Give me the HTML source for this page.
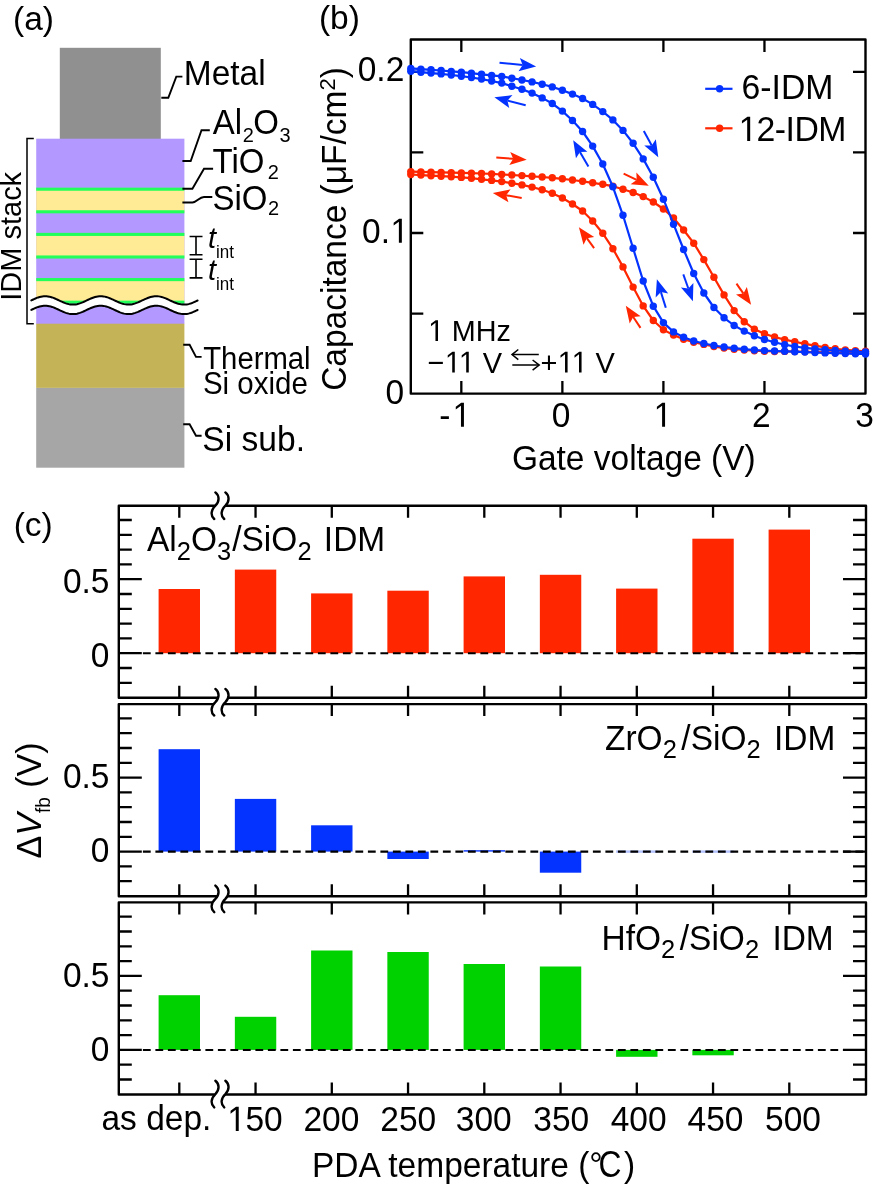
<!DOCTYPE html>
<html><head><meta charset="utf-8"><style>
html,body{margin:0;padding:0;background:#fff;overflow:hidden;}
svg{display:block;will-change:transform;}
text{font-family:"Liberation Sans", sans-serif;fill:#000;}
</style></head><body>
<svg width="873" height="1184" viewBox="0 0 873 1184">
<rect x="59.8" y="47.8" width="101" height="91.2" fill="#909090"/>
<rect x="36.2" y="138.7" width="148.2" height="185.3" fill="#b399ff"/>
<rect x="36.2" y="189.2" width="148.2" height="22.6" fill="#ffea96"/>
<rect x="36.2" y="234.4" width="148.2" height="22.6" fill="#ffea96"/>
<rect x="36.2" y="279.6" width="148.2" height="22.6" fill="#ffea96"/>
<rect x="36.2" y="187.65" width="148.2" height="3.1" fill="#22ff5a"/>
<rect x="36.2" y="210.25" width="148.2" height="3.1" fill="#22ff5a"/>
<rect x="36.2" y="232.85" width="148.2" height="3.1" fill="#22ff5a"/>
<rect x="36.2" y="255.45" width="148.2" height="3.1" fill="#22ff5a"/>
<rect x="36.2" y="278.05" width="148.2" height="3.1" fill="#22ff5a"/>
<rect x="36.2" y="300.65" width="148.2" height="3.1" fill="#22ff5a"/>
<rect x="36.2" y="323.7" width="148.2" height="64.2" fill="#c5b457"/>
<rect x="36.2" y="387.9" width="148.2" height="79.8" fill="#a6a6a6"/>
<path d="M31.3,300.4 L32.69,299.74 L34.07,299.1 L35.46,298.5 L36.84,297.93 L38.23,297.43 L39.62,297 L41,296.66 L42.39,296.41 L43.77,296.25 L45.16,296.2 L46.54,296.25 L47.93,296.4 L49.32,296.65 L50.7,297 L52.09,297.42 L53.47,297.92 L54.86,298.48 L56.24,299.09 L57.63,299.73 L59.02,300.38 L60.4,301.04 L61.79,301.68 L63.17,302.29 L64.56,302.85 L65.95,303.36 L67.33,303.79 L68.72,304.13 L70.1,304.39 L71.49,304.54 L72.88,304.6 L74.26,304.55 L75.65,304.4 L77.03,304.15 L78.42,303.81 L79.8,303.39 L81.19,302.89 L82.58,302.33 L83.96,301.73 L85.35,301.09 L86.73,300.43 L88.12,299.78 L89.5,299.13 L90.89,298.52 L92.28,297.96 L93.66,297.46 L95.05,297.02 L96.43,296.67 L97.82,296.42 L99.21,296.26 L100.59,296.2 L101.98,296.25 L103.36,296.39 L104.75,296.64 L106.13,296.98 L107.52,297.4 L108.91,297.9 L110.29,298.45 L111.68,299.06 L113.06,299.7 L114.45,300.35 L115.84,301.01 L117.22,301.65 L118.61,302.26 L119.99,302.83 L121.38,303.33 L122.76,303.77 L124.15,304.12 L125.54,304.38 L126.92,304.54 L128.31,304.6 L129.69,304.56 L131.08,304.41 L132.47,304.17 L133.85,303.83 L135.24,303.41 L136.62,302.92 L138.01,302.36 L139.39,301.76 L140.78,301.12 L142.17,300.46 L143.55,299.81 L144.94,299.16 L146.32,298.55 L147.71,297.99 L149.1,297.48 L150.48,297.04 L151.87,296.69 L153.25,296.43 L154.64,296.26 L156.02,296.2 L157.41,296.24 L158.8,296.38 L160.18,296.62 L161.57,296.96 L162.95,297.38 L164.34,297.87 L165.73,298.43 L167.11,299.03 L168.5,299.67 L169.88,300.32 L171.27,300.98 L172.66,301.62 L174.04,302.23 L175.43,302.8 L176.81,303.31 L178.2,303.75 L179.58,304.1 L180.97,304.37 L182.36,304.53 L183.74,304.6 L185.13,304.56 L186.51,304.42 L187.9,304.18 L189.28,303.85 L190.67,303.43 L192.06,302.94 L193.44,302.39 L194.83,301.79 L196.21,301.15 L197.6,300.5 L197.6,310 L196.21,310.65 L194.83,311.29 L193.44,311.89 L192.06,312.44 L190.67,312.93 L189.28,313.35 L187.9,313.68 L186.51,313.92 L185.13,314.06 L183.74,314.1 L182.36,314.03 L180.97,313.87 L179.58,313.6 L178.2,313.25 L176.81,312.81 L175.43,312.3 L174.04,311.73 L172.66,311.12 L171.27,310.48 L169.88,309.82 L168.5,309.17 L167.11,308.53 L165.73,307.93 L164.34,307.37 L162.95,306.88 L161.57,306.46 L160.18,306.12 L158.8,305.88 L157.41,305.74 L156.02,305.7 L154.64,305.76 L153.25,305.93 L151.87,306.19 L150.48,306.54 L149.1,306.98 L147.71,307.49 L146.32,308.05 L144.94,308.66 L143.55,309.31 L142.17,309.96 L140.78,310.62 L139.39,311.26 L138.01,311.86 L136.62,312.42 L135.24,312.91 L133.85,313.33 L132.47,313.67 L131.08,313.91 L129.69,314.06 L128.31,314.1 L126.92,314.04 L125.54,313.88 L124.15,313.62 L122.76,313.27 L121.38,312.83 L119.99,312.33 L118.61,311.76 L117.22,311.15 L115.84,310.51 L114.45,309.85 L113.06,309.2 L111.68,308.56 L110.29,307.95 L108.91,307.4 L107.52,306.9 L106.13,306.48 L104.75,306.14 L103.36,305.89 L101.98,305.75 L100.59,305.7 L99.21,305.76 L97.82,305.92 L96.43,306.17 L95.05,306.52 L93.66,306.96 L92.28,307.46 L90.89,308.02 L89.5,308.63 L88.12,309.28 L86.73,309.93 L85.35,310.59 L83.96,311.23 L82.58,311.83 L81.19,312.39 L79.8,312.89 L78.42,313.31 L77.03,313.65 L75.65,313.9 L74.26,314.05 L72.88,314.1 L71.49,314.04 L70.1,313.89 L68.72,313.63 L67.33,313.29 L65.95,312.86 L64.56,312.35 L63.17,311.79 L61.79,311.18 L60.4,310.54 L59.02,309.88 L57.63,309.23 L56.24,308.59 L54.86,307.98 L53.47,307.42 L52.09,306.92 L50.7,306.5 L49.32,306.15 L47.93,305.9 L46.54,305.75 L45.16,305.7 L43.77,305.75 L42.39,305.91 L41,306.16 L39.62,306.5 L38.23,306.93 L36.84,307.43 L35.46,308 L34.07,308.6 L32.69,309.24 L31.3,309.9 Z" fill="#fff"/>
<path d="M31.3,300.4 L32.69,299.74 L34.07,299.1 L35.46,298.5 L36.84,297.93 L38.23,297.43 L39.62,297 L41,296.66 L42.39,296.41 L43.77,296.25 L45.16,296.2 L46.54,296.25 L47.93,296.4 L49.32,296.65 L50.7,297 L52.09,297.42 L53.47,297.92 L54.86,298.48 L56.24,299.09 L57.63,299.73 L59.02,300.38 L60.4,301.04 L61.79,301.68 L63.17,302.29 L64.56,302.85 L65.95,303.36 L67.33,303.79 L68.72,304.13 L70.1,304.39 L71.49,304.54 L72.88,304.6 L74.26,304.55 L75.65,304.4 L77.03,304.15 L78.42,303.81 L79.8,303.39 L81.19,302.89 L82.58,302.33 L83.96,301.73 L85.35,301.09 L86.73,300.43 L88.12,299.78 L89.5,299.13 L90.89,298.52 L92.28,297.96 L93.66,297.46 L95.05,297.02 L96.43,296.67 L97.82,296.42 L99.21,296.26 L100.59,296.2 L101.98,296.25 L103.36,296.39 L104.75,296.64 L106.13,296.98 L107.52,297.4 L108.91,297.9 L110.29,298.45 L111.68,299.06 L113.06,299.7 L114.45,300.35 L115.84,301.01 L117.22,301.65 L118.61,302.26 L119.99,302.83 L121.38,303.33 L122.76,303.77 L124.15,304.12 L125.54,304.38 L126.92,304.54 L128.31,304.6 L129.69,304.56 L131.08,304.41 L132.47,304.17 L133.85,303.83 L135.24,303.41 L136.62,302.92 L138.01,302.36 L139.39,301.76 L140.78,301.12 L142.17,300.46 L143.55,299.81 L144.94,299.16 L146.32,298.55 L147.71,297.99 L149.1,297.48 L150.48,297.04 L151.87,296.69 L153.25,296.43 L154.64,296.26 L156.02,296.2 L157.41,296.24 L158.8,296.38 L160.18,296.62 L161.57,296.96 L162.95,297.38 L164.34,297.87 L165.73,298.43 L167.11,299.03 L168.5,299.67 L169.88,300.32 L171.27,300.98 L172.66,301.62 L174.04,302.23 L175.43,302.8 L176.81,303.31 L178.2,303.75 L179.58,304.1 L180.97,304.37 L182.36,304.53 L183.74,304.6 L185.13,304.56 L186.51,304.42 L187.9,304.18 L189.28,303.85 L190.67,303.43 L192.06,302.94 L193.44,302.39 L194.83,301.79 L196.21,301.15 L197.6,300.5" fill="none" stroke="#000" stroke-width="2.0" stroke-linecap="round"/>
<path d="M31.3,309.9 L32.69,309.24 L34.07,308.6 L35.46,308 L36.84,307.43 L38.23,306.93 L39.62,306.5 L41,306.16 L42.39,305.91 L43.77,305.75 L45.16,305.7 L46.54,305.75 L47.93,305.9 L49.32,306.15 L50.7,306.5 L52.09,306.92 L53.47,307.42 L54.86,307.98 L56.24,308.59 L57.63,309.23 L59.02,309.88 L60.4,310.54 L61.79,311.18 L63.17,311.79 L64.56,312.35 L65.95,312.86 L67.33,313.29 L68.72,313.63 L70.1,313.89 L71.49,314.04 L72.88,314.1 L74.26,314.05 L75.65,313.9 L77.03,313.65 L78.42,313.31 L79.8,312.89 L81.19,312.39 L82.58,311.83 L83.96,311.23 L85.35,310.59 L86.73,309.93 L88.12,309.28 L89.5,308.63 L90.89,308.02 L92.28,307.46 L93.66,306.96 L95.05,306.52 L96.43,306.17 L97.82,305.92 L99.21,305.76 L100.59,305.7 L101.98,305.75 L103.36,305.89 L104.75,306.14 L106.13,306.48 L107.52,306.9 L108.91,307.4 L110.29,307.95 L111.68,308.56 L113.06,309.2 L114.45,309.85 L115.84,310.51 L117.22,311.15 L118.61,311.76 L119.99,312.33 L121.38,312.83 L122.76,313.27 L124.15,313.62 L125.54,313.88 L126.92,314.04 L128.31,314.1 L129.69,314.06 L131.08,313.91 L132.47,313.67 L133.85,313.33 L135.24,312.91 L136.62,312.42 L138.01,311.86 L139.39,311.26 L140.78,310.62 L142.17,309.96 L143.55,309.31 L144.94,308.66 L146.32,308.05 L147.71,307.49 L149.1,306.98 L150.48,306.54 L151.87,306.19 L153.25,305.93 L154.64,305.76 L156.02,305.7 L157.41,305.74 L158.8,305.88 L160.18,306.12 L161.57,306.46 L162.95,306.88 L164.34,307.37 L165.73,307.93 L167.11,308.53 L168.5,309.17 L169.88,309.82 L171.27,310.48 L172.66,311.12 L174.04,311.73 L175.43,312.3 L176.81,312.81 L178.2,313.25 L179.58,313.6 L180.97,313.87 L182.36,314.03 L183.74,314.1 L185.13,314.06 L186.51,313.92 L187.9,313.68 L189.28,313.35 L190.67,312.93 L192.06,312.44 L193.44,311.89 L194.83,311.29 L196.21,310.65 L197.6,310" fill="none" stroke="#000" stroke-width="2.0" stroke-linecap="round"/>
<path d="M33.8,138.6 H27 V323.8 H33.8" fill="none" stroke="#000" stroke-width="1.5"/>
<path d="M161.3,97.8 L168.3,97.8 L176.3,76.6 L182.4,76.6" fill="none" stroke="#000" stroke-width="1.9"/>
<path d="M182.4,161 L190.7,161 L201.5,130.2 L209.8,130.2" fill="none" stroke="#000" stroke-width="1.9"/>
<path d="M182.4,188.7 L192.4,188.7 L204,168.8 L213.1,168.8" fill="none" stroke="#000" stroke-width="1.9"/>
<path d="M182.4,202.5 H192.5 C197,202.5 199,197 204,197 H212.3" fill="none" stroke="#000" stroke-width="1.9"/>
<path d="M183.2,344.8 L189.6,344.8 L196,356.9 L201.6,356.9" fill="none" stroke="#000" stroke-width="1.9"/>
<path d="M183.2,424.3 L189.6,424.3 L196,435.8 L201.6,435.8" fill="none" stroke="#000" stroke-width="1.9"/>
<path d="M189.6,236.5 H202.5 M196,236.5 V254.8 M189.6,254.8 H202.5" fill="none" stroke="#000" stroke-width="1.6"/>
<path d="M189.6,259.2 H202.5 M196,259.2 V277.9 M189.6,277.9 H202.5" fill="none" stroke="#000" stroke-width="1.6"/>
<text transform="translate(13,29.8) scale(1,1.0)" font-size="33.5" text-anchor="start" >(a)</text>
<text transform="translate(183.8,85.1) scale(1,1.045)" font-size="33.5" text-anchor="start" >Metal</text>
<text transform="translate(212.8,133.9) scale(1,1.045)" font-size="33" text-anchor="start" >Al<tspan font-size="20" dy="7.5" dx="0.5">2</tspan><tspan dy="-7.5" dx="-0.5">O</tspan><tspan font-size="20" dy="7.5" dx="0.5">3</tspan></text>
<text transform="translate(212.5,172.9) scale(1,1.045)" font-size="33" text-anchor="start" >TiO<tspan font-size="20" dy="5.6" dx="3.4">2</tspan></text>
<text transform="translate(212.5,209.5) scale(1,1.045)" font-size="33" text-anchor="start" >SiO<tspan font-size="20" dy="5.6" dx="0.5">2</tspan></text>
<text transform="translate(208,248.4) scale(1,1.045)" font-size="29" text-anchor="start" font-style="italic">t<tspan font-style="normal" font-size="17" dy="8.8">int</tspan></text>
<text transform="translate(208,280) scale(1,1.045)" font-size="29" text-anchor="start" font-style="italic">t<tspan font-style="normal" font-size="17" dy="9.6">int</tspan></text>
<text transform="translate(203.2,369.2) scale(1,1.045)" font-size="29.3" text-anchor="start" >Thermal</text>
<text transform="translate(202.9,394.4) scale(1,1.045)" font-size="29.5" text-anchor="start" >Si oxide</text>
<text transform="translate(202.3,451.4) scale(1,1.045)" font-size="33.6" text-anchor="start" >Si sub.</text>
<text transform="translate(21.3,236.3) rotate(-90) scale(1,1.045)" font-size="29" text-anchor="middle" >IDM stack</text>
<rect x="410.8" y="39.5" width="454.7" height="354.1" stroke="#000" stroke-width="2.4" fill="none" stroke-linejoin="round"/>
<path d="M461.32,393.6 V381.1 M461.32,39.5 V52 M562.37,393.6 V381.1 M562.37,39.5 V52 M663.41,393.6 V381.1 M663.41,39.5 V52 M764.46,393.6 V381.1 M764.46,39.5 V52 M410.8,313.55 H423.3 M865.5,313.55 H853 M410.8,233 H423.3 M865.5,233 H853 M410.8,152.45 H423.3 M865.5,152.45 H853 M410.8,71.9 H423.3 M865.5,71.9 H853" stroke="#000" stroke-width="2.3" fill="none"/>
<g>
<path d="M410.8,174.5 L420.9,175.1 L431.01,175.7 L441.11,176.2 L451.22,176.7 L461.32,177.4 L471.43,178.2 L481.53,179.3 L491.64,180.4 L501.74,181.6 L511.84,183.2 L521.95,184.9 L532.05,187.1 L542.16,189.8 L552.26,193.2 L562.37,198 L572.47,204 L582.58,211 L592.68,221 L602.78,233.3 L612.89,248.7 L622.99,266.9 L633.1,287.1 L643.2,305.9 L653.31,320.5 L663.41,329.7 L673.52,335.1 L683.62,339.2 L693.72,342.2 L703.83,344.4 L713.93,346.5 L724.04,348.1 L734.14,349.2 L744.25,350 L754.35,350.7 L764.46,351.2 L774.56,351.5 L784.66,351.4 L794.77,351.5 L804.87,351.8 L814.98,352.1 L825.08,352.4 L835.19,352.7 L845.29,353 L855.4,353.3 L865.5,353.5" fill="none" stroke="#ff2600" stroke-width="2.2" stroke-linejoin="round"/>
<g fill="#ff2600"><circle cx="410.8" cy="174.5" r="3.7"/><circle cx="420.9" cy="175.1" r="3.7"/><circle cx="431.01" cy="175.7" r="3.7"/><circle cx="441.11" cy="176.2" r="3.7"/><circle cx="451.22" cy="176.7" r="3.7"/><circle cx="461.32" cy="177.4" r="3.7"/><circle cx="471.43" cy="178.2" r="3.7"/><circle cx="481.53" cy="179.3" r="3.7"/><circle cx="491.64" cy="180.4" r="3.7"/><circle cx="501.74" cy="181.6" r="3.7"/><circle cx="511.84" cy="183.2" r="3.7"/><circle cx="521.95" cy="184.9" r="3.7"/><circle cx="532.05" cy="187.1" r="3.7"/><circle cx="542.16" cy="189.8" r="3.7"/><circle cx="552.26" cy="193.2" r="3.7"/><circle cx="562.37" cy="198" r="3.7"/><circle cx="572.47" cy="204" r="3.7"/><circle cx="582.58" cy="211" r="3.7"/><circle cx="592.68" cy="221" r="3.7"/><circle cx="602.78" cy="233.3" r="3.7"/><circle cx="612.89" cy="248.7" r="3.7"/><circle cx="622.99" cy="266.9" r="3.7"/><circle cx="633.1" cy="287.1" r="3.7"/><circle cx="643.2" cy="305.9" r="3.7"/><circle cx="653.31" cy="320.5" r="3.7"/><circle cx="663.41" cy="329.7" r="3.7"/><circle cx="673.52" cy="335.1" r="3.7"/><circle cx="683.62" cy="339.2" r="3.7"/><circle cx="693.72" cy="342.2" r="3.7"/><circle cx="703.83" cy="344.4" r="3.7"/><circle cx="713.93" cy="346.5" r="3.7"/><circle cx="724.04" cy="348.1" r="3.7"/><circle cx="734.14" cy="349.2" r="3.7"/><circle cx="744.25" cy="350" r="3.7"/><circle cx="754.35" cy="350.7" r="3.7"/><circle cx="764.46" cy="351.2" r="3.7"/><circle cx="774.56" cy="351.5" r="3.7"/><circle cx="784.66" cy="351.4" r="3.7"/><circle cx="794.77" cy="351.5" r="3.7"/><circle cx="804.87" cy="351.8" r="3.7"/><circle cx="814.98" cy="352.1" r="3.7"/><circle cx="825.08" cy="352.4" r="3.7"/><circle cx="835.19" cy="352.7" r="3.7"/><circle cx="845.29" cy="353" r="3.7"/><circle cx="855.4" cy="353.3" r="3.7"/><circle cx="865.5" cy="353.5" r="3.7"/></g>
<path d="M410.8,171.6 L420.9,171.9 L431.01,172.2 L441.11,172.4 L451.22,172.6 L461.32,172.9 L471.43,173.1 L481.53,173.5 L491.64,173.9 L501.74,174.5 L511.84,175 L521.95,175.6 L532.05,176.3 L542.16,177 L552.26,177.8 L562.37,178.8 L572.47,180 L582.58,181.3 L592.68,182.8 L602.78,184.3 L612.89,186.2 L622.99,189.2 L633.1,192.5 L643.2,196.6 L653.31,202 L663.41,209 L673.52,218 L683.62,230 L693.72,243.2 L703.83,259.6 L713.93,277.3 L724.04,294.9 L734.14,310.6 L744.25,321.7 L754.35,329.3 L764.46,333.7 L774.56,337 L784.66,339.6 L794.77,341.8 L804.87,343.8 L814.98,345.7 L825.08,347.4 L835.19,348.8 L845.29,349.9 L855.4,350.7 L865.5,351.3" fill="none" stroke="#ff2600" stroke-width="2.2" stroke-linejoin="round"/>
<g fill="#ff2600"><circle cx="410.8" cy="171.6" r="3.7"/><circle cx="420.9" cy="171.9" r="3.7"/><circle cx="431.01" cy="172.2" r="3.7"/><circle cx="441.11" cy="172.4" r="3.7"/><circle cx="451.22" cy="172.6" r="3.7"/><circle cx="461.32" cy="172.9" r="3.7"/><circle cx="471.43" cy="173.1" r="3.7"/><circle cx="481.53" cy="173.5" r="3.7"/><circle cx="491.64" cy="173.9" r="3.7"/><circle cx="501.74" cy="174.5" r="3.7"/><circle cx="511.84" cy="175" r="3.7"/><circle cx="521.95" cy="175.6" r="3.7"/><circle cx="532.05" cy="176.3" r="3.7"/><circle cx="542.16" cy="177" r="3.7"/><circle cx="552.26" cy="177.8" r="3.7"/><circle cx="562.37" cy="178.8" r="3.7"/><circle cx="572.47" cy="180" r="3.7"/><circle cx="582.58" cy="181.3" r="3.7"/><circle cx="592.68" cy="182.8" r="3.7"/><circle cx="602.78" cy="184.3" r="3.7"/><circle cx="612.89" cy="186.2" r="3.7"/><circle cx="622.99" cy="189.2" r="3.7"/><circle cx="633.1" cy="192.5" r="3.7"/><circle cx="643.2" cy="196.6" r="3.7"/><circle cx="653.31" cy="202" r="3.7"/><circle cx="663.41" cy="209" r="3.7"/><circle cx="673.52" cy="218" r="3.7"/><circle cx="683.62" cy="230" r="3.7"/><circle cx="693.72" cy="243.2" r="3.7"/><circle cx="703.83" cy="259.6" r="3.7"/><circle cx="713.93" cy="277.3" r="3.7"/><circle cx="724.04" cy="294.9" r="3.7"/><circle cx="734.14" cy="310.6" r="3.7"/><circle cx="744.25" cy="321.7" r="3.7"/><circle cx="754.35" cy="329.3" r="3.7"/><circle cx="764.46" cy="333.7" r="3.7"/><circle cx="774.56" cy="337" r="3.7"/><circle cx="784.66" cy="339.6" r="3.7"/><circle cx="794.77" cy="341.8" r="3.7"/><circle cx="804.87" cy="343.8" r="3.7"/><circle cx="814.98" cy="345.7" r="3.7"/><circle cx="825.08" cy="347.4" r="3.7"/><circle cx="835.19" cy="348.8" r="3.7"/><circle cx="845.29" cy="349.9" r="3.7"/><circle cx="855.4" cy="350.7" r="3.7"/><circle cx="865.5" cy="351.3" r="3.7"/></g>
<path d="M410.8,71.2 L420.9,72.2 L431.01,73.1 L441.11,73.9 L451.22,75 L461.32,76.2 L471.43,77.5 L481.53,79.1 L491.64,81 L501.74,83.1 L511.84,86.2 L521.95,89.3 L532.05,93.1 L542.16,97.9 L552.26,103.5 L562.37,111.1 L572.47,120.5 L582.58,131.5 L592.68,146.1 L602.78,164 L612.89,186.8 L622.99,215.3 L633.1,248.3 L643.2,281 L653.31,306.2 L663.41,322.6 L673.52,331.9 L683.62,337.3 L693.72,341 L703.83,343.5 L713.93,345.5 L724.04,347 L734.14,348.2 L744.25,349.2 L754.35,350 L764.46,350.6 L774.56,351 L784.66,351.3 L794.77,351.7 L804.87,352.1 L814.98,352.5 L825.08,352.9 L835.19,353.2 L845.29,353.5 L855.4,353.8 L865.5,354" fill="none" stroke="#0433ff" stroke-width="2.2" stroke-linejoin="round"/>
<g fill="#0433ff"><circle cx="410.8" cy="71.2" r="3.7"/><circle cx="420.9" cy="72.2" r="3.7"/><circle cx="431.01" cy="73.1" r="3.7"/><circle cx="441.11" cy="73.9" r="3.7"/><circle cx="451.22" cy="75" r="3.7"/><circle cx="461.32" cy="76.2" r="3.7"/><circle cx="471.43" cy="77.5" r="3.7"/><circle cx="481.53" cy="79.1" r="3.7"/><circle cx="491.64" cy="81" r="3.7"/><circle cx="501.74" cy="83.1" r="3.7"/><circle cx="511.84" cy="86.2" r="3.7"/><circle cx="521.95" cy="89.3" r="3.7"/><circle cx="532.05" cy="93.1" r="3.7"/><circle cx="542.16" cy="97.9" r="3.7"/><circle cx="552.26" cy="103.5" r="3.7"/><circle cx="562.37" cy="111.1" r="3.7"/><circle cx="572.47" cy="120.5" r="3.7"/><circle cx="582.58" cy="131.5" r="3.7"/><circle cx="592.68" cy="146.1" r="3.7"/><circle cx="602.78" cy="164" r="3.7"/><circle cx="612.89" cy="186.8" r="3.7"/><circle cx="622.99" cy="215.3" r="3.7"/><circle cx="633.1" cy="248.3" r="3.7"/><circle cx="643.2" cy="281" r="3.7"/><circle cx="653.31" cy="306.2" r="3.7"/><circle cx="663.41" cy="322.6" r="3.7"/><circle cx="673.52" cy="331.9" r="3.7"/><circle cx="683.62" cy="337.3" r="3.7"/><circle cx="693.72" cy="341" r="3.7"/><circle cx="703.83" cy="343.5" r="3.7"/><circle cx="713.93" cy="345.5" r="3.7"/><circle cx="724.04" cy="347" r="3.7"/><circle cx="734.14" cy="348.2" r="3.7"/><circle cx="744.25" cy="349.2" r="3.7"/><circle cx="754.35" cy="350" r="3.7"/><circle cx="764.46" cy="350.6" r="3.7"/><circle cx="774.56" cy="351" r="3.7"/><circle cx="784.66" cy="351.3" r="3.7"/><circle cx="794.77" cy="351.7" r="3.7"/><circle cx="804.87" cy="352.1" r="3.7"/><circle cx="814.98" cy="352.5" r="3.7"/><circle cx="825.08" cy="352.9" r="3.7"/><circle cx="835.19" cy="353.2" r="3.7"/><circle cx="845.29" cy="353.5" r="3.7"/><circle cx="855.4" cy="353.8" r="3.7"/><circle cx="865.5" cy="354" r="3.7"/></g>
<path d="M410.8,68.4 L420.9,69.2 L431.01,69.8 L441.11,70.5 L451.22,71.4 L461.32,72.2 L471.43,73.2 L481.53,74.3 L491.64,75.4 L501.74,76.4 L511.84,78.2 L521.95,80 L532.05,81.9 L542.16,84.2 L552.26,86.9 L562.37,90.2 L572.47,94.1 L582.58,98.5 L592.68,104.4 L602.78,111.6 L612.89,119.9 L622.99,130.4 L633.1,143.3 L643.2,158.9 L653.31,177.3 L663.41,199.2 L673.52,224.2 L683.62,249.5 L693.72,273.5 L703.83,293 L713.93,307.5 L724.04,317.8 L734.14,325.5 L744.25,331.1 L754.35,335.8 L764.46,339.5 L774.56,342.3 L784.66,344.7 L794.77,346.5 L804.87,347.9 L814.98,348.9 L825.08,349.8 L835.19,350.5 L845.29,351.1 L855.4,351.6 L865.5,352" fill="none" stroke="#0433ff" stroke-width="2.2" stroke-linejoin="round"/>
<g fill="#0433ff"><circle cx="410.8" cy="68.4" r="3.7"/><circle cx="420.9" cy="69.2" r="3.7"/><circle cx="431.01" cy="69.8" r="3.7"/><circle cx="441.11" cy="70.5" r="3.7"/><circle cx="451.22" cy="71.4" r="3.7"/><circle cx="461.32" cy="72.2" r="3.7"/><circle cx="471.43" cy="73.2" r="3.7"/><circle cx="481.53" cy="74.3" r="3.7"/><circle cx="491.64" cy="75.4" r="3.7"/><circle cx="501.74" cy="76.4" r="3.7"/><circle cx="511.84" cy="78.2" r="3.7"/><circle cx="521.95" cy="80" r="3.7"/><circle cx="532.05" cy="81.9" r="3.7"/><circle cx="542.16" cy="84.2" r="3.7"/><circle cx="552.26" cy="86.9" r="3.7"/><circle cx="562.37" cy="90.2" r="3.7"/><circle cx="572.47" cy="94.1" r="3.7"/><circle cx="582.58" cy="98.5" r="3.7"/><circle cx="592.68" cy="104.4" r="3.7"/><circle cx="602.78" cy="111.6" r="3.7"/><circle cx="612.89" cy="119.9" r="3.7"/><circle cx="622.99" cy="130.4" r="3.7"/><circle cx="633.1" cy="143.3" r="3.7"/><circle cx="643.2" cy="158.9" r="3.7"/><circle cx="653.31" cy="177.3" r="3.7"/><circle cx="663.41" cy="199.2" r="3.7"/><circle cx="673.52" cy="224.2" r="3.7"/><circle cx="683.62" cy="249.5" r="3.7"/><circle cx="693.72" cy="273.5" r="3.7"/><circle cx="703.83" cy="293" r="3.7"/><circle cx="713.93" cy="307.5" r="3.7"/><circle cx="724.04" cy="317.8" r="3.7"/><circle cx="734.14" cy="325.5" r="3.7"/><circle cx="744.25" cy="331.1" r="3.7"/><circle cx="754.35" cy="335.8" r="3.7"/><circle cx="764.46" cy="339.5" r="3.7"/><circle cx="774.56" cy="342.3" r="3.7"/><circle cx="784.66" cy="344.7" r="3.7"/><circle cx="794.77" cy="346.5" r="3.7"/><circle cx="804.87" cy="347.9" r="3.7"/><circle cx="814.98" cy="348.9" r="3.7"/><circle cx="825.08" cy="349.8" r="3.7"/><circle cx="835.19" cy="350.5" r="3.7"/><circle cx="845.29" cy="351.1" r="3.7"/><circle cx="855.4" cy="351.6" r="3.7"/><circle cx="865.5" cy="352" r="3.7"/></g>
</g>
<text transform="translate(404.3,81.1) scale(1,1.045)" font-size="33.5" text-anchor="end" >0.2</text>
<g transform="translate(408.6,242.8) scale(1,1.045)"><text x="-46.57 -27.94" y="0.00 0.00" font-size="33.5" >0.</text><path d="M-9.72,0.00 L-9.72,-20.23 L-14.93,-16.52 L-14.93,-19.30 L-9.48,-23.05 L-6.76,-23.05 L-6.76,0.00 Z" fill="#000"/></g>
<text transform="translate(404.2,403.6) scale(1,1.045)" font-size="33.5" text-anchor="end" >0</text>
<g transform="translate(439.2,426.8) scale(1,1.045)"><text x="0.00" y="0.00" font-size="33.5" >-</text><path d="M21.77,0.00 L21.77,-20.23 L16.57,-16.52 L16.57,-19.30 L22.01,-23.05 L24.73,-23.05 L24.73,0.00 Z" fill="#000"/></g>
<text transform="translate(561,426.8) scale(1,1.045)" font-size="33.5" text-anchor="middle" >0</text>
<g transform="translate(662.5,426.8) scale(1,1.045)"><path d="M-0.40,0.00 L-0.40,-20.23 L-5.61,-16.52 L-5.61,-19.30 L-0.16,-23.05 L2.56,-23.05 L2.56,0.00 Z" fill="#000"/></g>
<text transform="translate(761.3,426.8) scale(1,1.045)" font-size="33.5" text-anchor="middle" >2</text>
<text transform="translate(855.3,426.8) scale(1,1.045)" font-size="33.5" text-anchor="start" >3</text>
<text transform="translate(633.8,470.3) scale(1,1.045)" font-size="33.5" text-anchor="middle" >Gate voltage (V)</text>
<text transform="translate(346.4,229) rotate(-90) scale(1,1.045)" font-size="33.5" text-anchor="middle" >Capacitance (μF/cm<tspan font-size="22" dy="-10.5">2</tspan><tspan dy="10.5">)</tspan></text>
<text transform="translate(318.9,28.8) scale(1,1.0)" font-size="33.5" text-anchor="start" >(b)</text>
<path d="M705.2,88.8 H732.5" stroke="#0433ff" stroke-width="2.2"/>
<circle cx="719.6" cy="88.8" r="3.7" fill="#0433ff"/>
<text transform="translate(741.5,99.2) scale(1,1.045)" font-size="33.8" text-anchor="start" letter-spacing="0">6-IDM</text>
<path d="M705.2,128.3 H732.5" stroke="#ff2600" stroke-width="2.2"/>
<circle cx="719.6" cy="128.3" r="3.7" fill="#ff2600"/>
<g transform="translate(738.2,141) scale(1,1.045)"><text x="18.27 36.56 47.31 56.19 80.08" y="0.00 0.00 0.00 0.00 0.00" font-size="33.8" letter-spacing="-0.5">2-IDM</text><path d="M8.99,0.00 L8.99,-20.42 L3.75,-16.67 L3.75,-19.47 L9.24,-23.25 L11.98,-23.25 L11.98,0.00 Z" fill="#000"/></g>
<g transform="translate(427.8,341) scale(1,1.045)"><text x="24.00 47.97 68.76" y="0.00 0.00 0.00" font-size="28.8" >MHz</text><path d="M7.66,0.00 L7.66,-17.40 L3.19,-14.20 L3.19,-16.59 L7.88,-19.81 L10.21,-19.81 L10.21,0.00 Z" fill="#000"/></g>
<g transform="translate(427.6,372.6) scale(1,1.045)"><text x="0.00 55.06" y="0.00 0.00" font-size="29" >−V</text><path d="M24.63,0.00 L24.63,-17.52 L20.13,-14.30 L20.13,-16.71 L24.84,-19.95 L27.19,-19.95 L27.19,0.00 Z M38.61,0.00 L38.61,-17.52 L34.11,-14.30 L34.11,-16.71 L38.82,-19.95 L41.17,-19.95 L41.17,0.00 Z" fill="#000"/></g>
<g transform="translate(540.4,372.6) scale(1,1.045)"><text x="0.00 55.06" y="0.00 0.00" font-size="29" >+V</text><path d="M24.63,0.00 L24.63,-17.52 L20.13,-14.30 L20.13,-16.71 L24.84,-19.95 L27.19,-19.95 L27.19,0.00 Z M38.61,0.00 L38.61,-17.52 L34.11,-14.30 L34.11,-16.71 L38.82,-19.95 L41.17,-19.95 L41.17,0.00 Z" fill="#000"/></g>
<path d="M512.3,354.6 H538.8 M512.3,365.1 H539.1" stroke="#000" stroke-width="1.5" fill="none"/>
<path d="M518.3,349.5 L512,354.6 L518.3,359.7" stroke="#000" stroke-width="1.5" fill="none" stroke-linejoin="miter"/>
<path d="M532.6,360 L539.2,365.1 L532.6,370.2" stroke="#000" stroke-width="1.5" fill="none" stroke-linejoin="miter"/>
<path d="M499.5,62.7 L522.67,65.04" stroke="#0433ff" stroke-width="2.0"/>
<path d="M536.1,66.4 L518.52,71.26 L522.67,65.04 L519.85,58.12 Z" fill="#0433ff"/>
<path d="M525.7,105.3 L507.48,100.64" stroke="#0433ff" stroke-width="2.0"/>
<path d="M494.4,97.3 L512.5,95.12 L507.48,100.64 L509.24,107.9 Z" fill="#0433ff"/>
<path d="M643.8,131.1 L651.74,145.4" stroke="#0433ff" stroke-width="2.0"/>
<path d="M658.3,157.2 L644.27,145.54 L651.74,145.4 L655.81,139.13 Z" fill="#0433ff"/>
<path d="M588.4,166.6 L579.94,151.9" stroke="#0433ff" stroke-width="2.0"/>
<path d="M573.2,140.2 L587.4,151.64 L579.94,151.9 L575.96,158.23 Z" fill="#0433ff"/>
<path d="M665.8,307.8 L660.91,292.09" stroke="#0433ff" stroke-width="2.0"/>
<path d="M656.9,279.2 L668.25,293.47 L660.91,292.09 L655.65,297.39 Z" fill="#0433ff"/>
<path d="M683.3,274.4 L688.35,288.49" stroke="#0433ff" stroke-width="2.0"/>
<path d="M692.9,301.2 L680.95,287.42 L688.35,288.49 L693.38,282.97 Z" fill="#0433ff"/>
<path d="M496.3,157.6 L513.23,158.77" stroke="#ff2600" stroke-width="2.0"/>
<path d="M526.7,159.7 L509.29,165.11 L513.23,158.77 L510.2,151.94 Z" fill="#ff2600"/>
<path d="M521.7,197.9 L506.11,195.26" stroke="#ff2600" stroke-width="2.0"/>
<path d="M492.8,193 L510.66,189.33 L506.11,195.26 L508.46,202.35 Z" fill="#ff2600"/>
<path d="M623.6,173.6 L636.65,179.92" stroke="#ff2600" stroke-width="2.0"/>
<path d="M648.8,185.8 L630.62,184.33 L636.65,179.92 L636.37,172.45 Z" fill="#ff2600"/>
<path d="M594.1,248.2 L586.82,238.14" stroke="#ff2600" stroke-width="2.0"/>
<path d="M578.9,227.2 L594.21,237.1 L586.82,238.14 L583.52,244.84 Z" fill="#ff2600"/>
<path d="M640.5,327.9 L633.25,316.96" stroke="#ff2600" stroke-width="2.0"/>
<path d="M625.8,305.7 L640.69,316.23 L633.25,316.96 L629.68,323.52 Z" fill="#ff2600"/>
<path d="M736.5,283.6 L743.42,293.6" stroke="#ff2600" stroke-width="2.0"/>
<path d="M751.1,304.7 L736,294.48 L743.42,293.6 L746.85,286.96 Z" fill="#ff2600"/>
<rect x="158.6" y="589" width="41.4" height="64.2" fill="#ff2600"/>
<rect x="234.85" y="569.6" width="41.4" height="83.6" fill="#ff2600"/>
<rect x="311.1" y="593.4" width="41.4" height="59.8" fill="#ff2600"/>
<rect x="387.35" y="590.7" width="41.4" height="62.5" fill="#ff2600"/>
<rect x="463.6" y="576.4" width="41.4" height="76.8" fill="#ff2600"/>
<rect x="539.85" y="574.8" width="41.4" height="78.4" fill="#ff2600"/>
<rect x="616.1" y="588.6" width="41.4" height="64.6" fill="#ff2600"/>
<rect x="692.35" y="538.7" width="41.4" height="114.5" fill="#ff2600"/>
<rect x="768.6" y="529.6" width="41.4" height="123.6" fill="#ff2600"/>
<path d="M142.9,653.2 H866.0" stroke="#000" stroke-width="2.05" stroke-dasharray="7.8 4.7"/>
<path d="M215.4,505.7 H118.8 V697.8 H218.14 M225.4,505.7 H866.0 V697.8 H228.14" stroke="#000" stroke-width="2.4" fill="none" stroke-linejoin="round"/>
<path d="M118.8,682.8 H131.8 M866.0,682.8 H853 M118.8,668 H131.8 M866.0,668 H853 M118.8,653.2 H141.8 M866.0,653.2 H843 M118.8,638.4 H131.8 M866.0,638.4 H853 M118.8,623.6 H131.8 M866.0,623.6 H853 M118.8,608.8 H131.8 M866.0,608.8 H853 M118.8,594 H131.8 M866.0,594 H853 M118.8,579.2 H141.8 M866.0,579.2 H843 M118.8,564.4 H131.8 M866.0,564.4 H853 M118.8,549.6 H131.8 M866.0,549.6 H853 M118.8,534.8 H131.8 M866.0,534.8 H853 M118.8,520 H131.8 M866.0,520 H853 M179.3,505.7 V517.7 M179.3,697.8 V685.8 M255.55,505.7 V517.7 M255.55,697.8 V685.8 M331.8,505.7 V517.7 M331.8,697.8 V685.8 M408.05,505.7 V517.7 M408.05,697.8 V685.8 M484.3,505.7 V517.7 M484.3,697.8 V685.8 M560.55,505.7 V517.7 M560.55,697.8 V685.8 M636.8,505.7 V517.7 M636.8,697.8 V685.8 M713.05,505.7 V517.7 M713.05,697.8 V685.8 M789.3,505.7 V517.7 M789.3,697.8 V685.8" stroke="#000" stroke-width="2.3" fill="none"/>
<text transform="translate(109.5,593.2) scale(1,1.045)" font-size="33.5" text-anchor="end" >0.5</text>
<text transform="translate(109.5,667.2) scale(1,1.045)" font-size="33.5" text-anchor="end" >0</text>
<rect x="158.6" y="749.2" width="41.4" height="102.4" fill="#0433ff"/>
<rect x="234.85" y="798.9" width="41.4" height="52.7" fill="#0433ff"/>
<rect x="311.1" y="825.3" width="41.4" height="26.3" fill="#0433ff"/>
<rect x="387.35" y="851.6" width="41.4" height="7.4" fill="#0433ff"/>
<rect x="463.6" y="850.2" width="41.4" height="1.4" fill="#0433ff"/>
<rect x="539.85" y="851.6" width="41.4" height="21.1" fill="#0433ff"/>
<rect x="616.1" y="850.4" width="41.4" height="2.4" fill="#0433ff" fill-opacity="0.3"/>
<rect x="692.35" y="850.4" width="41.4" height="2.4" fill="#0433ff" fill-opacity="0.3"/>
<path d="M142.9,851.6 H866.0" stroke="#000" stroke-width="2.05" stroke-dasharray="7.8 4.7"/>
<path d="M213.43,704.1 H118.8 V896.2 H217.42 M223.43,704.1 H866.0 V896.2 H227.42" stroke="#000" stroke-width="2.4" fill="none" stroke-linejoin="round"/>
<path d="M118.8,881.2 H131.8 M866.0,881.2 H853 M118.8,866.4 H131.8 M866.0,866.4 H853 M118.8,851.6 H141.8 M866.0,851.6 H843 M118.8,836.8 H131.8 M866.0,836.8 H853 M118.8,822 H131.8 M866.0,822 H853 M118.8,807.2 H131.8 M866.0,807.2 H853 M118.8,792.4 H131.8 M866.0,792.4 H853 M118.8,777.6 H141.8 M866.0,777.6 H843 M118.8,762.8 H131.8 M866.0,762.8 H853 M118.8,748 H131.8 M866.0,748 H853 M118.8,733.2 H131.8 M866.0,733.2 H853 M118.8,718.4 H131.8 M866.0,718.4 H853 M179.3,704.1 V716.1 M179.3,896.2 V884.2 M255.55,704.1 V716.1 M255.55,896.2 V884.2 M331.8,704.1 V716.1 M331.8,896.2 V884.2 M408.05,704.1 V716.1 M408.05,896.2 V884.2 M484.3,704.1 V716.1 M484.3,896.2 V884.2 M560.55,704.1 V716.1 M560.55,896.2 V884.2 M636.8,704.1 V716.1 M636.8,896.2 V884.2 M713.05,704.1 V716.1 M713.05,896.2 V884.2 M789.3,704.1 V716.1 M789.3,896.2 V884.2" stroke="#000" stroke-width="2.3" fill="none"/>
<text transform="translate(109.5,787.8) scale(1,1.045)" font-size="33.5" text-anchor="end" >0.5</text>
<text transform="translate(109.5,861.8) scale(1,1.045)" font-size="33.5" text-anchor="end" >0</text>
<rect x="158.6" y="995.2" width="41.4" height="54.7" fill="#00d200"/>
<rect x="234.85" y="1016.8" width="41.4" height="33.1" fill="#00d200"/>
<rect x="311.1" y="950.5" width="41.4" height="99.4" fill="#00d200"/>
<rect x="387.35" y="952" width="41.4" height="97.9" fill="#00d200"/>
<rect x="463.6" y="964" width="41.4" height="85.9" fill="#00d200"/>
<rect x="539.85" y="966.5" width="41.4" height="83.4" fill="#00d200"/>
<rect x="616.1" y="1049.9" width="41.4" height="6.9" fill="#00d200"/>
<rect x="692.35" y="1049.9" width="41.4" height="5.4" fill="#00d200"/>
<path d="M142.9,1049.9 H866.0" stroke="#000" stroke-width="2.05" stroke-dasharray="7.8 4.7"/>
<path d="M212.48,902.4 H118.8 V1094.5 H214.88 M222.48,902.4 H866.0 V1094.5 H224.88" stroke="#000" stroke-width="2.4" fill="none" stroke-linejoin="round"/>
<path d="M118.8,1079.5 H131.8 M866.0,1079.5 H853 M118.8,1064.7 H131.8 M866.0,1064.7 H853 M118.8,1049.9 H141.8 M866.0,1049.9 H843 M118.8,1035.1 H131.8 M866.0,1035.1 H853 M118.8,1020.3 H131.8 M866.0,1020.3 H853 M118.8,1005.5 H131.8 M866.0,1005.5 H853 M118.8,990.7 H131.8 M866.0,990.7 H853 M118.8,975.9 H141.8 M866.0,975.9 H843 M118.8,961.1 H131.8 M866.0,961.1 H853 M118.8,946.3 H131.8 M866.0,946.3 H853 M118.8,931.5 H131.8 M866.0,931.5 H853 M118.8,916.7 H131.8 M866.0,916.7 H853 M179.3,902.4 V914.4 M179.3,1094.5 V1082.5 M255.55,902.4 V914.4 M255.55,1094.5 V1082.5 M331.8,902.4 V914.4 M331.8,1094.5 V1082.5 M408.05,902.4 V914.4 M408.05,1094.5 V1082.5 M484.3,902.4 V914.4 M484.3,1094.5 V1082.5 M560.55,902.4 V914.4 M560.55,1094.5 V1082.5 M636.8,902.4 V914.4 M636.8,1094.5 V1082.5 M713.05,902.4 V914.4 M713.05,1094.5 V1082.5 M789.3,902.4 V914.4 M789.3,1094.5 V1082.5" stroke="#000" stroke-width="2.3" fill="none"/>
<text transform="translate(109.5,986.9) scale(1,1.045)" font-size="33.5" text-anchor="end" >0.5</text>
<text transform="translate(109.5,1060.9) scale(1,1.045)" font-size="33.5" text-anchor="end" >0</text>
<path d="M215.4,492.4 C219.6,495.72 219.6,501.44 215.4,505.7 C210.8,509.96 210.4,515.67 214.2,519 M225.4,492.4 C229.6,495.72 229.6,501.44 225.4,505.7 C220.8,509.96 220.4,515.67 224.2,519 M215.4,688.9 C219.6,692.23 219.6,697.94 215.4,702.2 C210.8,706.46 210.4,712.17 214.2,715.5 M225.4,688.9 C229.6,692.23 229.6,697.94 225.4,702.2 C220.8,706.46 220.4,712.17 224.2,715.5 M215.4,885.6 C219.6,888.93 219.6,894.64 215.4,898.9 C210.8,903.16 210.4,908.88 214.2,912.2 M225.4,885.6 C229.6,888.93 229.6,894.64 225.4,898.9 C220.8,903.16 220.4,908.88 224.2,912.2 M215.4,1080.8 C219.6,1084.12 219.6,1089.84 215.4,1094.1 C210.8,1098.36 210.4,1104.08 214.2,1107.4 M225.4,1080.8 C229.6,1084.12 229.6,1089.84 225.4,1094.1 C220.8,1098.36 220.4,1104.08 224.2,1107.4" stroke="#000" stroke-width="2.4" fill="none" stroke-linecap="round"/>
<text transform="translate(147,550.8) scale(1,1.045)" font-size="33.5" text-anchor="start" >Al<tspan font-size="25.5" dy="8.6">2</tspan><tspan dy="-8.6">O</tspan><tspan font-size="25.5" dy="8.6">3</tspan><tspan dy="-8.6" dx="1">/SiO</tspan><tspan font-size="25.5" dy="8.6">2</tspan><tspan dy="-8.6" dx="3"> IDM</tspan></text>
<text transform="translate(605,750.2) scale(1,1.045)" font-size="33.5" text-anchor="start" >ZrO<tspan font-size="25.5" dy="7.6">2</tspan><tspan dy="-7.6" dx="4.5">/SiO</tspan><tspan font-size="25.5" dy="7.6">2</tspan><tspan dy="-7.6" dx="4"> IDM</tspan></text>
<text transform="translate(601.5,949.6) scale(1,1.045)" font-size="33.5" text-anchor="start" >HfO<tspan font-size="25.5" dy="7.6">2</tspan><tspan dy="-7.6" dx="4.5">/SiO</tspan><tspan font-size="25.5" dy="7.6">2</tspan><tspan dy="-7.6" dx="4"> IDM</tspan></text>
<text transform="translate(13.7,536) scale(1,1.0)" font-size="33.5" text-anchor="start" >(c)</text>
<text transform="translate(101.5,1130.3) scale(1,1.045)" font-size="33.5" text-anchor="start" >as dep.</text>
<g transform="translate(254.8,1130.9) scale(1,1.045)"><text x="-9.32 9.30" y="0.00 0.00" font-size="33.5" >50</text><path d="M-19.03,0.00 L-19.03,-20.23 L-24.23,-16.52 L-24.23,-19.30 L-18.78,-23.05 L-16.07,-23.05 L-16.07,0.00 Z" fill="#000"/></g>
<text transform="translate(331.4,1130.9) scale(1,1.045)" font-size="33.5" text-anchor="middle" >200</text>
<text transform="translate(408.2,1130.9) scale(1,1.045)" font-size="33.5" text-anchor="middle" >250</text>
<text transform="translate(483.7,1130.9) scale(1,1.045)" font-size="33.5" text-anchor="middle" >300</text>
<text transform="translate(561.2,1130.9) scale(1,1.045)" font-size="33.5" text-anchor="middle" >350</text>
<text transform="translate(638.6,1130.9) scale(1,1.045)" font-size="33.5" text-anchor="middle" >400</text>
<text transform="translate(715.5,1130.9) scale(1,1.045)" font-size="33.5" text-anchor="middle" >450</text>
<text transform="translate(793,1130.9) scale(1,1.045)" font-size="33.5" text-anchor="middle" >500</text>
<text transform="translate(312,1176.8) scale(1,1.045)" font-size="33.5" text-anchor="start" >PDA temperature (°</text>
<text transform="translate(598.6,1177.3) scale(0.95,1.10)" font-size="33.5">C</text>
<text transform="translate(624,1176.8) scale(1,1.045)" font-size="33.5" text-anchor="start" >)</text>
<text transform="translate(40.5,800.5) rotate(-90) scale(1,1.045)" font-size="34" text-anchor="middle" >Δ<tspan font-style="italic">V</tspan><tspan font-size="19" dy="9">fb</tspan><tspan dy="-9"> (V)</tspan></text>
</svg>
</body></html>
